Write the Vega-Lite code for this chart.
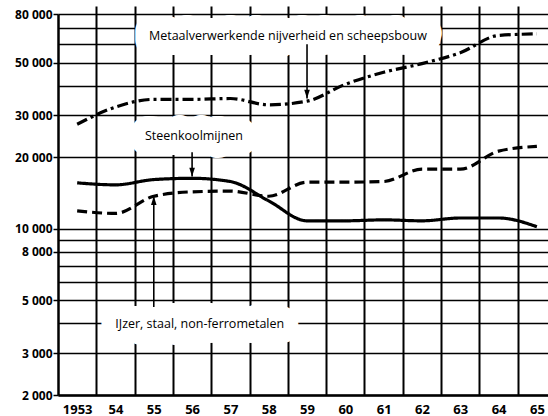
{
  "$schema": "https://vega.github.io/schema/vega-lite/v6.json",
  "width": 490,
  "height": 381,
  "autosize": {"type": "none"},
  "padding": {"left": 58, "top": 14, "right": 0, "bottom": 21},
  "background": "white",
  "config": {
    "view": {"stroke": null},
    "axis": {"labelFont": "Open Sans", "labelColor": "black", "titleFont": "Open Sans"}
  },
  "datasets": {
    "series": [
      {"year": 1953, "series": "Metaal", "value": 27500},
      {"year": 1954, "series": "Metaal", "value": 32500},
      {"year": 1955, "series": "Metaal", "value": 35000},
      {"year": 1956, "series": "Metaal", "value": 35000},
      {"year": 1957, "series": "Metaal", "value": 35300},
      {"year": 1958, "series": "Metaal", "value": 33200},
      {"year": 1959, "series": "Metaal", "value": 34400},
      {"year": 1960, "series": "Metaal", "value": 40500},
      {"year": 1961, "series": "Metaal", "value": 45500},
      {"year": 1962, "series": "Metaal", "value": 49500},
      {"year": 1963, "series": "Metaal", "value": 55000},
      {"year": 1964, "series": "Metaal", "value": 65000},
      {"year": 1965, "series": "Metaal", "value": 66000},
      {"year": 1953, "series": "Steenkool", "value": 15600},
      {"year": 1954, "series": "Steenkool", "value": 15300},
      {"year": 1955, "series": "Steenkool", "value": 16100},
      {"year": 1956, "series": "Steenkool", "value": 16300},
      {"year": 1957, "series": "Steenkool", "value": 15800},
      {"year": 1958, "series": "Steenkool", "value": 13100},
      {"year": 1959, "series": "Steenkool", "value": 10800},
      {"year": 1960, "series": "Steenkool", "value": 10800},
      {"year": 1961, "series": "Steenkool", "value": 10900},
      {"year": 1962, "series": "Steenkool", "value": 10800},
      {"year": 1963, "series": "Steenkool", "value": 11100},
      {"year": 1964, "series": "Steenkool", "value": 11100},
      {"year": 1965, "series": "Steenkool", "value": 10200},
      {"year": 1953, "series": "IJzer", "value": 11900},
      {"year": 1954, "series": "IJzer", "value": 11600},
      {"year": 1955, "series": "IJzer", "value": 13700},
      {"year": 1956, "series": "IJzer", "value": 14300},
      {"year": 1957, "series": "IJzer", "value": 14400},
      {"year": 1958, "series": "IJzer", "value": 13700},
      {"year": 1959, "series": "IJzer", "value": 15700},
      {"year": 1960, "series": "IJzer", "value": 15700},
      {"year": 1961, "series": "IJzer", "value": 15800},
      {"year": 1962, "series": "IJzer", "value": 17800},
      {"year": 1963, "series": "IJzer", "value": 17800},
      {"year": 1964, "series": "IJzer", "value": 21200},
      {"year": 1965, "series": "IJzer", "value": 22200}
    ],
    "labels": [
      {"year": 1958.5, "value": 64600, "label": "Metaalverwerkende nijverheid en scheepsbouw"},
      {"year": 1956.05, "value": 24500, "label": "Steenkoolmijnen"},
      {"year": 1956.2, "value": 3970, "label": "IJzer, staal, non-ferrometalen"}
    ],
    "arrows": [
      {"year": 1959, "from": 59700, "to": 35300, "dir": "down"},
      {"year": 1956, "from": 21000, "to": 16600, "dir": "down"},
      {"year": 1955, "from": 4690, "to": 13700, "dir": "up"}
    ]
  },
  "layer": [
    {
      "data": {"name": "labels"},
      "mark": {"type": "text", "font": "Open Sans", "fontSize": 12.5, "fill": "white", "stroke": "white", "strokeWidth": 30, "strokeJoin": "round", "align": "center", "baseline": "middle"},
      "encoding": {
        "x": {
          "field": "year", "type": "quantitative",
          "scale": {"domain": [1952.5, 1965.29], "nice": false, "zero": false},
          "axis": {"orient": "bottom", "values": [1953.5, 1954.5, 1955.5, 1956.5, 1957.5, 1958.5, 1959.5, 1960.5, 1961.5, 1962.5, 1963.5, 1964.5], "grid": true, "gridColor": "black", "gridWidth": 2, "gridOpacity": 1, "labels": false, "ticks": false, "domain": false, "title": null}
        },
        "y": {
          "field": "value", "type": "quantitative",
          "scale": {"type": "log", "domain": [2000, 80000], "nice": false},
          "axis": {"orient": "left", "values": [2000, 3000, 4000, 5000, 6000, 7000, 8000, 9000, 10000, 20000, 30000, 40000, 50000, 60000, 70000, 80000], "grid": true, "gridColor": "black", "gridWidth": 1.6, "gridOpacity": 1, "labels": false, "ticks": false, "domain": false, "title": null}
        },
        "text": {"field": "label"}
      }
    },
    {
      "data": {"name": "series"},
      "mark": {"type": "line", "strokeWidth": 3.2, "color": "black", "interpolate": "monotone"},
      "encoding": {
        "x": {
          "field": "year", "type": "quantitative",
          "axis": {"orient": "bottom", "values": [1953, 1954, 1955, 1956, 1957, 1958, 1959, 1960, 1961, 1962, 1963, 1964, 1965], "labelExpr": "datum.value == 1953 ? '1953' : substring(toString(datum.value), 2, 4)", "grid": false, "ticks": false, "domain": true, "domainColor": "black", "domainWidth": 2.5, "labelFontSize": 13, "labelFontWeight": "bold", "labelPadding": 8, "title": null}
        },
        "y": {
          "field": "value", "type": "quantitative",
          "axis": {"orient": "left", "values": [2000, 3000, 5000, 8000, 10000, 20000, 30000, 50000, 80000], "labelExpr": "replace(format(datum.value, ','), ',', ' ')", "grid": false, "ticks": true, "tickSize": 5, "tickWidth": 1.5, "tickColor": "black", "domain": true, "domainColor": "black", "domainWidth": 2.5, "labelFontSize": 12, "labelFontWeight": "bold", "labelPadding": 1, "title": null}
        },
        "detail": {"field": "series"},
        "strokeDash": {
          "field": "series", "type": "nominal",
          "scale": {"domain": ["Metaal", "Steenkool", "IJzer"], "range": [[11, 4, 3, 4], [1, 0], [10, 5]]},
          "legend": null
        }
      }
    },
    {
      "data": {"name": "arrows"},
      "mark": {"type": "rule", "strokeWidth": 1.6, "color": "black"},
      "encoding": {
        "x": {
          "field": "year", "type": "quantitative",
          "axis": {"orient": "top", "values": [1953.5, 1954.5, 1955.5, 1956.5, 1957.5, 1958.5, 1959.5, 1960.5, 1961.5, 1962.5, 1963.5, 1964.5], "grid": false, "labels": false, "ticks": true, "tickSize": 8, "tickWidth": 2, "tickColor": "black", "domain": false, "title": null}
        },
        "y": {"field": "from", "type": "quantitative", "axis": null},
        "y2": {"field": "to"}
      }
    },
    {
      "data": {"name": "arrows"},
      "mark": {"type": "point", "filled": true, "color": "black", "opacity": 1, "size": 64},
      "encoding": {
        "x": {"field": "year", "type": "quantitative", "axis": null},
        "y": {"field": "to", "type": "quantitative", "axis": null},
        "shape": {
          "field": "dir", "type": "nominal",
          "scale": {"domain": ["down", "up"], "range": ["M0,0L-0.7,-2.2L0.7,-2.2Z", "M0,0L-0.7,2.2L0.7,2.2Z"]},
          "legend": null
        }
      }
    },
    {
      "data": {"name": "labels"},
      "mark": {"type": "text", "font": "Open Sans", "fontSize": 12.5, "color": "black", "align": "center", "baseline": "middle"},
      "encoding": {
        "x": {"field": "year", "type": "quantitative", "axis": null},
        "y": {"field": "value", "type": "quantitative", "axis": null},
        "text": {"field": "label"}
      }
    }
  ],
  "resolve": {"axis": {"x": "independent", "y": "independent"}}
}
